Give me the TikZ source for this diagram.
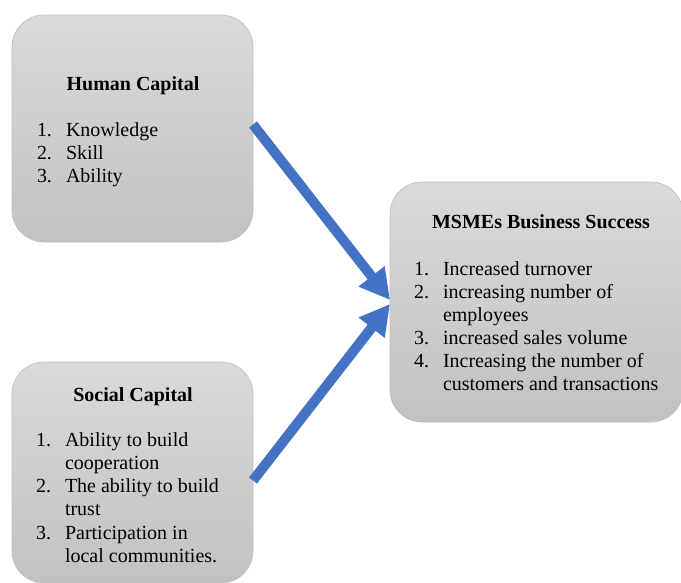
\documentclass[tikz,border=0pt]{standalone}
\usepackage{fontspec}
\setmainfont{Liberation Serif}
\usetikzlibrary{arrows.meta}

\definecolor{flowblue}{HTML}{4472C4}

\tikzset{
  panel/.style={rounded corners=32pt, top color=gray!29, bottom color=gray!48,
    draw=gray!52, line width=0.6pt, outer sep=0pt, inner sep=0pt},
  txt/.style={inner sep=0pt, outer sep=0pt, anchor=base west,
    font=\fontsize{20}{23}\selectfont},
  head/.style={txt, anchor=base, font=\fontsize{20}{23}\selectfont\bfseries},
  flow/.style={draw=flowblue, line width=10pt,
    -{Triangle[length=30pt,width=31pt,fill=flowblue]}},
}

\begin{document}
\begin{tikzpicture}[x=1pt,y=-1pt]
  \clip (0,0) rectangle (681,582);
  \fill[white] (0,0) rectangle (681,582);

  % three panels
  \node[panel, minimum width=241pt, minimum height=227pt] (human) at (132.5,128.5) {};
  \node[panel, minimum width=241pt, minimum height=221pt] (social) at (132.5,472.5) {};
  \node[panel, minimum width=293pt, minimum height=240pt] (msme) at (536.5,302) {};

  % Human Capital
  \node[head] (hTitle) at (133,90) {Human Capital};
  \node[txt] (h1n) at (37,136) {1.};  \node[txt] (h1) at (66,136) {Knowledge};
  \node[txt] (h2n) at (37,159) {2.};  \node[txt] (h2) at (66,159) {Skill};
  \node[txt] (h3n) at (37,182) {3.};  \node[txt] (h3) at (66,182) {Ability};

  % Social Capital
  \node[head] (sTitle) at (133,401) {Social Capital};
  \node[txt] (s1n) at (36,446) {1.};  \node[txt] (s1a) at (65,446) {Ability to build};
                                      \node[txt] (s1b) at (65,469) {cooperation};
  \node[txt] (s2n) at (36,492) {2.};  \node[txt] (s2a) at (65,492) {The ability to build};
                                      \node[txt] (s2b) at (65,515) {trust};
  \node[txt] (s3n) at (36,539) {3.};  \node[txt] (s3a) at (65,539) {Participation in};
                                      \node[txt] (s3b) at (65,562) {local communities.};

  % MSMEs Business Success
  \node[head] (mTitle) at (541,228) {MSMEs Business Success};
  \node[txt] (m1n) at (414,275) {1.};  \node[txt] (m1) at (443,275) {Increased turnover};
  \node[txt] (m2n) at (414,298) {2.};  \node[txt] (m2a) at (443,298) {increasing number of};
                                       \node[txt] (m2b) at (443,321) {employees};
  \node[txt] (m3n) at (414,344) {3.};  \node[txt] (m3) at (443,344) {increased sales volume};
  \node[txt] (m4n) at (414,367) {4.};  \node[txt] (m4a) at (443,367) {Increasing the number of};
                                       \node[txt] (m4b) at (443,390) {customers and transactions};

  % connectors
  \draw[flow] ([yshift=4pt]human.east) -- ([yshift=2pt]msme.west);
  \draw[flow] ([yshift=-8pt]social.east) -- ([yshift=-2pt]msme.west);
\end{tikzpicture}
\end{document}
